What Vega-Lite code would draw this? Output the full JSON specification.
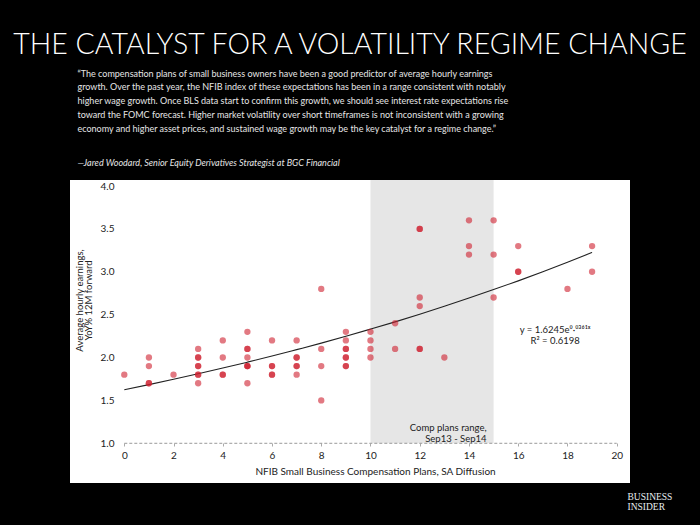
{
  "$schema": "https://vega.github.io/schema/vega-lite/v6.json",
  "autosize": {"type": "none"},
  "width": 560,
  "height": 303,
  "padding": {"left": 70, "top": 180, "right": 70, "bottom": 42},
  "background": "#000000",
  "title": {
    "text": "THE CATALYST FOR A VOLATILITY REGIME CHANGE",
    "anchor": "middle",
    "font": "Lato",
    "fontSize": 28.5,
    "fontWeight": 300,
    "color": "#ffffff",
    "offset": 10
  },
  "config": {
    "view": {"fill": "#ffffff", "stroke": null},
    "axis": {"labelFont": "Lato", "titleFont": "Lato", "grid": false, "domain": false}
  },
  "datasets": {
    "band": [{"start": 10, "end": 15, "label": ["Comp plans range,", "Sep13 - Sep14"]}],
    "fit": [
      {"x": 0, "y": 1.625}, {"x": 1, "y": 1.684}, {"x": 2, "y": 1.746}, {"x": 3, "y": 1.810},
      {"x": 4, "y": 1.877}, {"x": 5, "y": 1.946}, {"x": 6, "y": 2.017}, {"x": 7, "y": 2.092},
      {"x": 8, "y": 2.168}, {"x": 9, "y": 2.248}, {"x": 10, "y": 2.331}, {"x": 11, "y": 2.416},
      {"x": 12, "y": 2.505}, {"x": 13, "y": 2.597}, {"x": 14, "y": 2.693}, {"x": 15, "y": 2.792},
      {"x": 16, "y": 2.894}, {"x": 17, "y": 3.001}, {"x": 18, "y": 3.111}, {"x": 19, "y": 3.225}
    ],
    "obs": [
      {"x": 0, "y": 1.8},
      {"x": 1, "y": 2.0}, {"x": 1, "y": 1.9}, {"x": 1, "y": 1.7}, {"x": 1, "y": 1.7},
      {"x": 2, "y": 1.8},
      {"x": 3, "y": 2.1}, {"x": 3, "y": 2.0}, {"x": 3, "y": 2.0}, {"x": 3, "y": 1.9}, {"x": 3, "y": 1.9}, {"x": 3, "y": 1.8}, {"x": 3, "y": 1.8}, {"x": 3, "y": 1.7},
      {"x": 4, "y": 2.2}, {"x": 4, "y": 2.0}, {"x": 4, "y": 1.8}, {"x": 4, "y": 1.8},
      {"x": 5, "y": 2.3}, {"x": 5, "y": 2.1}, {"x": 5, "y": 2.1}, {"x": 5, "y": 2.0}, {"x": 5, "y": 1.9}, {"x": 5, "y": 1.9}, {"x": 5, "y": 1.9}, {"x": 5, "y": 1.7},
      {"x": 6, "y": 2.2}, {"x": 6, "y": 1.9}, {"x": 6, "y": 1.9}, {"x": 6, "y": 1.8}, {"x": 6, "y": 1.8},
      {"x": 7, "y": 2.2}, {"x": 7, "y": 2.0}, {"x": 7, "y": 2.0}, {"x": 7, "y": 1.9}, {"x": 7, "y": 1.9}, {"x": 7, "y": 1.8},
      {"x": 8, "y": 2.8}, {"x": 8, "y": 2.1}, {"x": 8, "y": 1.9}, {"x": 8, "y": 1.5},
      {"x": 9, "y": 2.3}, {"x": 9, "y": 2.2}, {"x": 9, "y": 2.1}, {"x": 9, "y": 2.1}, {"x": 9, "y": 2.0}, {"x": 9, "y": 2.0}, {"x": 9, "y": 1.9}, {"x": 9, "y": 1.9},
      {"x": 10, "y": 2.3}, {"x": 10, "y": 2.2}, {"x": 10, "y": 2.1}, {"x": 10, "y": 2.0},
      {"x": 11, "y": 2.4}, {"x": 11, "y": 2.1},
      {"x": 12, "y": 3.5}, {"x": 12, "y": 3.5}, {"x": 12, "y": 2.7}, {"x": 12, "y": 2.6}, {"x": 12, "y": 2.1}, {"x": 12, "y": 2.1},
      {"x": 13, "y": 2.0},
      {"x": 14, "y": 3.6}, {"x": 14, "y": 3.3}, {"x": 14, "y": 3.2},
      {"x": 15, "y": 3.6}, {"x": 15, "y": 3.2}, {"x": 15, "y": 2.7},
      {"x": 16, "y": 3.3}, {"x": 16, "y": 3.0}, {"x": 16, "y": 3.0},
      {"x": 18, "y": 2.8},
      {"x": 19, "y": 3.3}, {"x": 19, "y": 3.0}
    ]
  },
  "resolve": {"axis": {"x": "independent", "y": "independent"}},
  "layer": [
    {
      "data": {"name": "band"},
      "mark": {"type": "rect", "color": "#e6e6e6"},
      "encoding": {
        "x": {
          "field": "start", "type": "quantitative",
          "axis": {
            "orient": "top", "labels": false, "ticks": false, "domain": false,
            "title": [
              "“The compensation plans of small business owners have been a good predictor of average hourly earnings",
              "growth. Over the past year, the NFIB index of these expectations has been in a range consistent with notably",
              "higher wage growth. Once BLS data start to confirm this growth, we should see interest rate expectations rise",
              "toward the FOMC forecast. Higher market volatility over short timeframes is not inconsistent with a growing",
              "economy and higher asset prices, and sustained wage growth may be the key catalyst for a regime change.”"
            ],
            "titleFont": "Lato", "titleFontSize": 9, "titleFontWeight": "normal",
            "titleColor": "#e6e6e6", "titleAlign": "left", "titleAnchor": "start",
            "titleX": 7, "titleY": -111, "titleBaseline": "top", "titleLineHeight": 13.8
          }
        },
        "x2": {"field": "end"},
        "y": {"datum": 1, "axis": null},
        "y2": {"datum": 4.07}
      }
    },
    {
      "data": {"name": "band"},
      "mark": {"type": "text", "align": "right", "baseline": "bottom", "dx": -7, "dy": -10, "font": "Lato", "fontSize": 9.5, "color": "#222222", "lineHeight": 11},
      "encoding": {
        "x": {"field": "end", "type": "quantitative", "axis": null},
        "y": {"datum": 1, "axis": null},
        "text": {"field": "label"}
      }
    },
    {
      "data": {"values": [{}]},
      "mark": {"type": "rule", "color": "#9a9a9a", "strokeDash": [3, 2], "strokeWidth": 1},
      "encoding": {
        "x": {
          "datum": 0,
          "axis": {
            "orient": "top", "labels": false, "ticks": false, "domain": false,
            "title": "—Jared Woodard, Senior Equity Derivatives Strategist at BGC Financial",
            "titleFont": "Lato", "titleFontSize": 9, "titleFontStyle": "italic", "titleFontWeight": "normal",
            "titleColor": "#e6e6e6", "titleAlign": "left", "titleAnchor": "start",
            "titleX": 7, "titleY": -22, "titleBaseline": "top"
          }
        },
        "x2": {"datum": 20},
        "y": {"datum": 1, "axis": null}
      }
    },
    {
      "data": {"name": "fit"},
      "mark": {"type": "line", "color": "#222222", "strokeWidth": 1.1, "interpolate": "monotone"},
      "encoding": {
        "x": {
          "field": "x", "type": "quantitative",
          "axis": {
            "orient": "bottom", "offset": 0, "labels": false, "ticks": false, "domain": false,
            "title": ["BUSINESS", "INSIDER"],
            "titleFont": "Liberation Serif", "titleFontSize": 9.5, "titleFontWeight": "normal",
            "titleColor": "#e8eef0", "titleAlign": "left", "titleAnchor": "start",
            "titleX": 557, "titleY": 8, "titleBaseline": "top", "titleLineHeight": 10.5
          }
        },
        "y": {"field": "y", "type": "quantitative", "axis": null}
      }
    },
    {
      "data": {"name": "obs"},
      "mark": {"type": "circle", "size": 40, "color": "#cf1f2e", "opacity": 0.6},
      "encoding": {
        "x": {
          "field": "x", "type": "quantitative",
          "scale": {"domain": [-2.205, 20.54], "nice": false, "zero": false},
          "axis": {
            "orient": "bottom", "offset": -40, "values": [0, 2, 4, 6, 8, 10, 12, 14, 16, 18, 20], "format": "d",
            "labelFontSize": 10, "labelColor": "#222222", "labelPadding": 4,
            "ticks": true, "tickSize": 3, "tickColor": "#aaaaaa", "domain": false,
            "title": "NFIB Small Business Compensation Plans, SA Diffusion",
            "titleFontSize": 10, "titleFontWeight": "normal", "titleColor": "#222222",
            "titleX": 305, "titleY": 28, "titleBaseline": "middle", "titleAlign": "center"
          }
        },
        "y": {
          "field": "y", "type": "quantitative",
          "scale": {"domain": [0.537, 4.07], "nice": false, "zero": false},
          "axis": {
            "orient": "left", "offset": -46, "values": [1, 1.5, 2, 2.5, 3, 3.5, 4], "format": ".1f",
            "ticks": false, "tickSize": 0, "labelPadding": 2, "labelFontSize": 10, "labelColor": "#222222", "domain": false,
            "title": ["Average hourly earnings,", "YoY% 12M forward"],
            "titleFontSize": 9.5, "titleFontWeight": "normal", "titleColor": "#222222",
            "titleAngle": -90, "titleX": -42, "titleY": 120, "titleBaseline": "top", "titleAlign": "center", "titleLineHeight": 9.5
          }
        }
      }
    },
    {
      "data": {"values": [{"eq": ["y = 1.6245e⁰·⁰³⁶¹ˣ", "R² = 0.6198"]}]},
      "mark": {"type": "text", "align": "center", "baseline": "middle", "font": "Lato", "fontSize": 9.5, "color": "#222222", "lineHeight": 10.5},
      "encoding": {
        "x": {"datum": 17.5, "axis": null},
        "y": {"datum": 2.32, "axis": null},
        "text": {"field": "eq"}
      }
    }
  ]
}
